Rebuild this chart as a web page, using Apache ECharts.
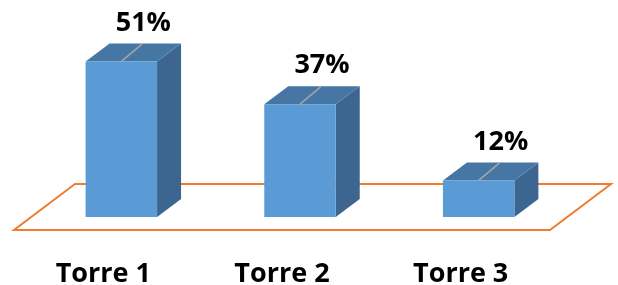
<!DOCTYPE html>
<html>
<head>
<meta charset="utf-8">
<script src="https://cdn.jsdelivr.net/npm/echarts@6/dist/echarts.min.js"></script>
<style>
  html, body { margin: 0; padding: 0; background: #fff; }
  #main { width: 618px; height: 285px; }
</style>
</head>
<body>
<div id="main"></div>
<script>
  // datos del grafico
  var categories = ['Torre 1', 'Torre 2', 'Torre 3'];
  var values = [51, 37, 12];
  var valueLabels = ['51%', '37%', '12%'];

  var myChart = echarts.init(document.getElementById('main'));

  // profundidad de las barras 3D
  var DX = 24, DY = -18;
  var FONT = '"Open Sans", "Liberation Sans", sans-serif';

  function renderBar(params, api) {
    var idx = api.value(0);
    var base = api.coord([idx, 0]);
    var top = api.coord([idx, api.value(1)]);
    var w = api.size([1, 0])[0] * 0.4;
    var x0 = base[0] - w / 2, x1 = base[0] + w / 2;
    var yb = base[1], yt = top[1];
    return {
      type: 'group',
      children: [
        { type: 'polygon', shape: { points: [[x1, yt], [x1 + DX, yt + DY], [x1 + DX, yb + DY], [x1, yb]] },
          style: { fill: '#3C6590' } },
        { type: 'polygon', shape: { points: [[x0, yt], [x1, yt], [x1 + DX, yt + DY], [x0 + DX, yt + DY]] },
          style: { fill: '#4676A3' } },
        { type: 'rect', shape: { x: x0, y: yt, width: w, height: yb - yt },
          style: { fill: '#5B9BD5' } },
        { type: 'line', shape: { x1: base[0], y1: yt, x2: base[0] + DX * 0.86, y2: yt + DY * 0.96 },
          style: { stroke: '#A6A6A6', lineWidth: 1.5 } },
        { type: 'text', style: { text: valueLabels[params.dataIndex], x: base[0] + 22, y: yt - 25,
          align: 'center', verticalAlign: 'bottom', fill: '#000',
          font: 'bold 27px ' + FONT } }
      ]
    };
  }

  function renderFloor(params, api) {
    var cs = params.coordSys;
    var yb = cs.y + cs.height;
    return {
      type: 'polygon',
      shape: { points: [
        [cs.x - 18, yb + 13],
        [cs.x + cs.width - 18, yb + 13],
        [cs.x + cs.width + 43, yb - 33],
        [cs.x + 43, yb - 33]
      ] },
      style: { fill: '#fff', stroke: '#ED7D31', lineWidth: 2 }
    };
  }

  var option = {
    animation: false,
    grid: { left: 32, top: 34, width: 536, height: 183, containLabel: false, outerBoundsMode: 'none' },
    xAxis: {
      type: 'category',
      data: categories,
      axisLine: { show: false },
      axisTick: { show: false },
      axisLabel: {
        margin: 44,
        padding: [0, 36, 0, 0],
        color: '#000',
        fontWeight: 'bold',
        fontSize: 27,
        fontFamily: FONT
      }
    },
    yAxis: {
      type: 'value',
      min: 0,
      max: 60,
      show: false,
      splitLine: { show: false }
    },
    series: [
      {
        type: 'custom',
        z: 1,
        renderItem: renderFloor,
        data: [[0, 0]],
        silent: true
      },
      {
        type: 'custom',
        z: 2,
        renderItem: renderBar,
        encode: { x: 0, y: 1 },
        data: values.map(function (v, i) { return [i, v]; })
      }
    ]
  };

  myChart.setOption(option);
</script>
</body>
</html>
